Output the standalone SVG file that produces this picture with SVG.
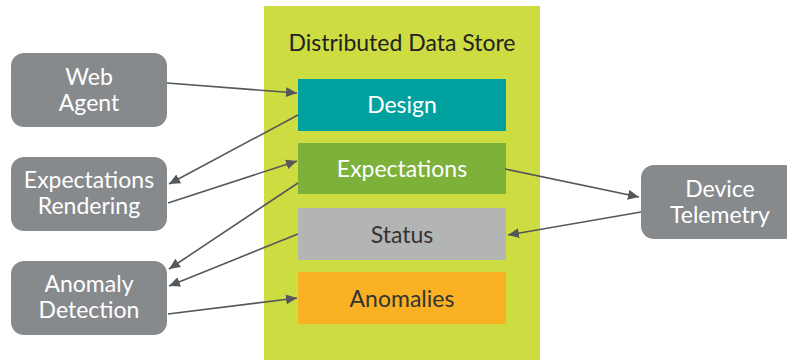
<svg xmlns="http://www.w3.org/2000/svg" width="787" height="360" viewBox="0 0 787 360">
<style>
.node rect{fill:#878a8d}
.node text{fill:#ffffff;font-family:Lato,"Liberation Sans",sans-serif;font-size:23px;text-anchor:middle}
.store text{font-family:Lato,"Liberation Sans",sans-serif;font-size:23px;text-anchor:middle}
.conn line{stroke:#555759;stroke-width:1.6;fill:none;marker-end:url(#arr)}
</style>
<defs>
<marker id="arr" markerUnits="userSpaceOnUse" markerWidth="12" markerHeight="10" refX="11" refY="5" orient="auto">
<path d="M0,0 L11,5 L0,10 Z" fill="#555759"/>
</marker>
</defs>
<rect width="787" height="360" fill="#ffffff"/>
<g id="store" class="store">
<rect x="264" y="6" width="276" height="354" fill="#cddc41"/>
<text x="402" y="51" fill="#222222">Distributed Data Store</text>
</g>
<g id="design" class="store">
<rect x="298" y="79" width="208" height="52" fill="#00a19f"/>
<text x="402" y="113" fill="#ffffff">Design</text>
</g>
<g id="expectations" class="store">
<rect x="298" y="143" width="208" height="51" fill="#7db13a"/>
<text x="402" y="177" fill="#ffffff">Expectations</text>
</g>
<g id="status" class="store">
<rect x="298" y="208" width="208" height="52" fill="#b3b5b4"/>
<text x="402" y="243" fill="#333333">Status</text>
</g>
<g id="anomalies" class="store">
<rect x="298" y="272" width="208" height="52" fill="#fbb124"/>
<text x="402" y="307" fill="#333333">Anomalies</text>
</g>
<g id="web-agent" class="node">
<rect x="11" y="53" width="156" height="74" rx="13"/>
<text x="89" y="84.5">Web</text>
<text x="89" y="110.5">Agent</text>
</g>
<g id="expectations-rendering" class="node">
<rect x="11" y="157" width="156" height="74" rx="13"/>
<text x="89" y="187.5">Expectations</text>
<text x="89" y="213.5">Rendering</text>
</g>
<g id="anomaly-detection" class="node">
<rect x="11" y="261" width="156" height="74" rx="13"/>
<text x="89" y="291.5">Anomaly</text>
<text x="89" y="317.5">Detection</text>
</g>
<g id="device-telemetry" class="node">
<rect x="641" y="165" width="156" height="74" rx="13"/>
<text x="720" y="196.5">Device</text>
<text x="720" y="222.5">Telemetry</text>
</g>
<g id="connectors" class="conn">
<line x1="167" y1="83" x2="297" y2="93"/>
<line x1="298" y1="115" x2="169" y2="184"/>
<line x1="168" y1="203" x2="297" y2="161"/>
<line x1="298" y1="183" x2="169" y2="269"/>
<line x1="298" y1="234" x2="169" y2="286"/>
<line x1="168" y1="314" x2="297" y2="298"/>
<line x1="505" y1="169" x2="639" y2="197"/>
<line x1="641" y1="212" x2="508" y2="235"/>
</g>
</svg>
